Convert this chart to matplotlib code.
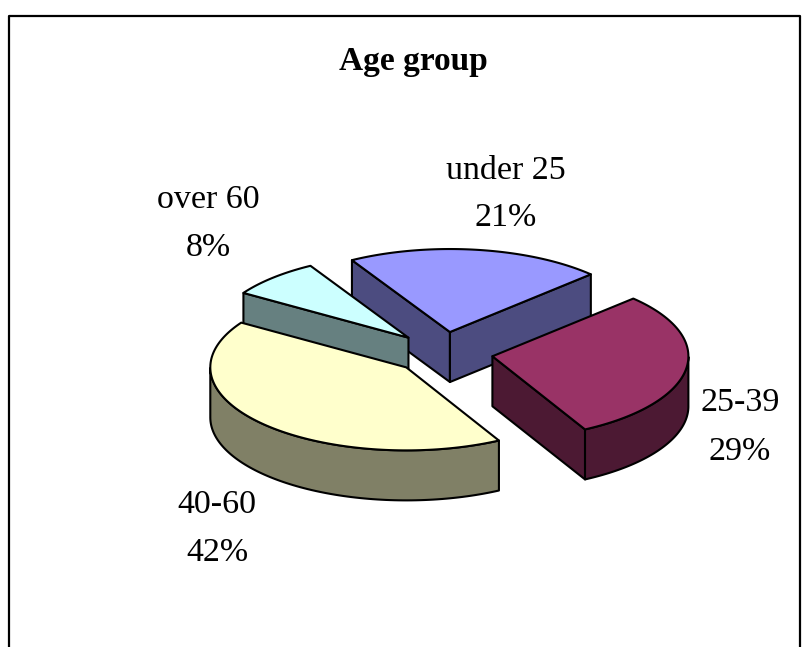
import numpy as np
import matplotlib
matplotlib.use('Agg')
import matplotlib.pyplot as plt
from matplotlib.patches import Polygon

# --- data ---
labels = ['under 25', '25-39', '40-60', 'over 60']
shares = [21.1, 29.4, 41.9, 7.6]  # the labels show these rounded
top_colors = ['#9999FF', '#993366', '#FFFFCC', '#CCFFFF']
side_colors = ['#4C4C80', '#4C1933', '#808066', '#668080']
draw_order = [0, 3, 1, 2]

# pie geometry in pixels
cx, cy = 443, 353
rx, ry = 196, 83
depth = 50
explode = 50
start_angle = 330

plt.rcParams['font.family'] = ['Liberation Serif', 'DejaVu Serif']

fig = plt.figure(figsize=(8.08, 6.47), dpi=100)
ax = fig.add_axes([0, 0, 1, 1])
ax.set_xlim(0, 808)
ax.set_ylim(647, 0)
ax.axis('off')

# frame, the bottom edge is cut off in the original
ax.plot([9, 9, 800, 800], [647, 15.5, 15.5, 647], color='black', lw=1.6)


def rim(t, x0, y0):
    # t is in degrees clockwise from 12 o'clock
    r = np.radians(t)
    return x0 + rx * np.sin(r), y0 - ry * np.cos(r)


def wall(xs, ys, color):
    xs = np.asarray(xs)
    ys = np.asarray(ys)
    pts = np.vstack([np.column_stack([xs, ys]),
                     np.column_stack([xs, ys + depth])[::-1]])
    ax.add_patch(Polygon(pts, closed=True, fc=color, ec='black', lw=1.5, joinstyle='round'))


fractions = np.array(shares) / sum(shares)
edges = start_angle + 360 * np.concatenate([[0], np.cumsum(fractions)])

for i in draw_order:
    a, b = edges[i], edges[i + 1]
    mid = np.radians((a + b) / 2)
    x0 = cx + explode * np.sin(mid)
    y0 = cy - explode * ry / rx * np.cos(mid)
    ts = np.linspace(a, b, 120)
    xr, yr = rim(ts, x0, y0)

    # cut faces, only those turned towards the viewer
    if np.sin(np.radians(a)) < 0:
        wall([x0, xr[0]], [y0, yr[0]], side_colors[i])
    if np.sin(np.radians(b)) > 0:
        wall([x0, xr[-1]], [y0, yr[-1]], side_colors[i])

    # outer wall, front half of the rim
    front = np.sin(np.radians(ts - 90)) > 0
    if front.any():
        wall(xr[front], yr[front], side_colors[i])

    pts = np.vstack([[x0, y0], np.column_stack([xr, yr])])
    ax.add_patch(Polygon(pts, closed=True, fc=top_colors[i], ec='black', lw=1.5, joinstyle='round'))

ax.text(413, 70, 'Age group', fontsize=24, fontweight='bold', ha='center', va='baseline')

label_pos = [(506, 179, 226), (740, 411, 460), (217, 513, 561), (208, 208, 256)]
for name, share, (x, y1, y2) in zip(labels, shares, label_pos):
    ax.text(x, y1, name, fontsize=24.5, ha='center', va='baseline')
    ax.text(x, y2, f'{round(share)}%', fontsize=24.5, ha='center', va='baseline')

fig.savefig('out.png', dpi=100)
